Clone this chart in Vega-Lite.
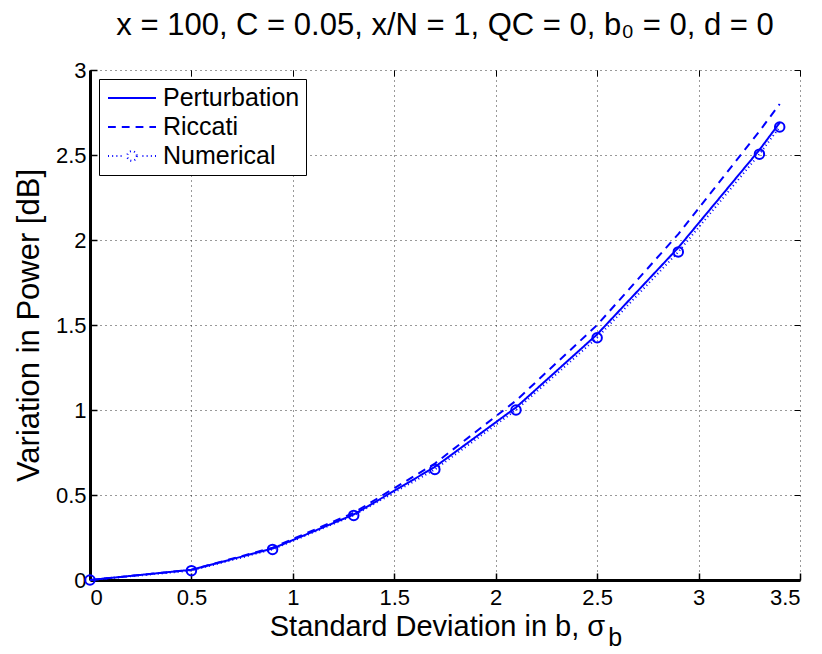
{
  "$schema": "https://vega.github.io/schema/vega-lite/v6.json",
  "width": 710,
  "height": 510,
  "autosize": {"type": "none"},
  "padding": {"left": 90, "top": 70, "right": 22, "bottom": 74},
  "background": "white",
  "title": {"text": "x = 100, C = 0.05, x/N = 1, QC = 0, b₀ = 0, d = 0", "font": "Liberation Sans", "fontSize": 31, "fontWeight": "normal", "color": "black", "offset": 17, "anchor": "middle"},
  "config": {
    "view": {"stroke": null},
    "axis": {"labelFont": "Liberation Sans", "titleFont": "Liberation Sans", "labelColor": "black", "titleColor": "black", "titleFontWeight": "normal"}
  },
  "datasets": {
    "curves": [
      {"x": 0, "y": 0, "series": "Perturbation"},
      {"x": 0.5, "y": 0.06, "series": "Perturbation"},
      {"x": 0.9, "y": 0.185, "series": "Perturbation"},
      {"x": 1.3, "y": 0.385, "series": "Perturbation"},
      {"x": 1.7, "y": 0.665, "series": "Perturbation"},
      {"x": 2.1, "y": 1.015, "series": "Perturbation"},
      {"x": 2.5, "y": 1.445, "series": "Perturbation"},
      {"x": 2.9, "y": 1.955, "series": "Perturbation"},
      {"x": 3.3, "y": 2.53, "series": "Perturbation"},
      {"x": 3.4, "y": 2.69, "series": "Perturbation"},
      {"x": 0, "y": 0, "series": "Riccati"},
      {"x": 0.5, "y": 0.06, "series": "Riccati"},
      {"x": 0.9, "y": 0.19, "series": "Riccati"},
      {"x": 1.3, "y": 0.395, "series": "Riccati"},
      {"x": 1.7, "y": 0.685, "series": "Riccati"},
      {"x": 2.1, "y": 1.055, "series": "Riccati"},
      {"x": 2.5, "y": 1.5, "series": "Riccati"},
      {"x": 2.9, "y": 2.035, "series": "Riccati"},
      {"x": 3.3, "y": 2.64, "series": "Riccati"},
      {"x": 3.4, "y": 2.8, "series": "Riccati"},
      {"x": 0, "y": 0, "series": "Numerical"},
      {"x": 0.5, "y": 0.055, "series": "Numerical"},
      {"x": 0.9, "y": 0.18, "series": "Numerical"},
      {"x": 1.3, "y": 0.38, "series": "Numerical"},
      {"x": 1.7, "y": 0.65, "series": "Numerical"},
      {"x": 2.1, "y": 1.0, "series": "Numerical"},
      {"x": 2.5, "y": 1.425, "series": "Numerical"},
      {"x": 2.9, "y": 1.93, "series": "Numerical"},
      {"x": 3.3, "y": 2.505, "series": "Numerical"},
      {"x": 3.4, "y": 2.665, "series": "Numerical"}
    ]
  },
  "resolve": {"axis": {"x": "independent", "y": "independent"}},
  "layer": [
    {
      "data": {"name": "curves"},
      "mark": {"type": "line", "color": "#0000ff", "strokeWidth": 2},
      "encoding": {
        "x": {"field": "x", "type": "quantitative", "scale": {"domain": [0, 3.5], "nice": false, "zero": false},
          "axis": {"orient": "bottom", "values": [0, 0.5, 1, 1.5, 2, 2.5, 3, 3.5], "format": "~g", "title": "Standard Deviation in b, σ", "titleFontSize": 29, "titlePadding": 4, "titleX": 347, "labelFontSize": 22, "labelPadding": 14, "tickSize": -7, "tickWidth": 1.5, "tickColor": "black", "domainColor": "black", "domainWidth": 3, "grid": true, "gridColor": "black", "gridDash": [1, 4], "gridWidth": 1, "gridOpacity": 0.8}},
        "y": {"field": "y", "type": "quantitative", "scale": {"domain": [0, 3], "nice": false, "zero": false},
          "axis": {"orient": "left", "values": [0, 0.5, 1, 1.5, 2, 2.5, 3], "format": "~g", "title": "Variation in Power [dB]", "titleFontSize": 31, "titlePadding": 10, "labelFontSize": 22, "labelPadding": 11, "tickSize": -7, "tickWidth": 1.5, "tickColor": "black", "domainColor": "black", "domainWidth": 3, "grid": true, "gridColor": "black", "gridDash": [1, 4], "gridWidth": 1, "gridOpacity": 0.8}},
        "strokeDash": {"field": "series", "type": "nominal",
          "scale": {"domain": ["Perturbation", "Riccati", "Numerical"], "range": [[1, 0], [8, 6], [1, 3]]},
          "legend": {"title": null, "orient": "top-left", "offset": 9, "padding": 6, "strokeColor": "black", "fillColor": "white",
            "labelFont": "Liberation Sans", "labelFontSize": 25, "labelColor": "black", "labelOffset": 18, "symbolOffset": 14,
            "symbolType": "M-2,0L2,0", "symbolSize": 576, "symbolStrokeColor": "#0000ff", "symbolStrokeWidth": 2, "rowPadding": 3,
            "encode": {"symbols": {"update": {
              "shape": {"signal": "datum.value === 'Perturbation' ? 'M-2,0L2,0' : datum.value === 'Riccati' ? 'M-2,0L-1.35,0M-0.85,0L-0.2,0M0.3,0L0.95,0M1.45,0L2,0' : 'M-2,0L-1.92,0M-1.65,0L-1.57,0M-1.3,0L-1.22,0M-0.95,0L-0.87,0M0.87,0L0.95,0M1.22,0L1.3,0M1.57,0L1.65,0M1.92,0L2,0M0.4,0A0.4,0.4,0,1,1,-0.4,0A0.4,0.4,0,1,1,0.4,0'"},
              "strokeDash": {"value": [1, 0]},
              "stroke": {"value": "#0000ff"},
              "fill": {"value": "transparent"}
            }}}
          }},
        "strokeWidth": {"condition": {"test": "datum.series === 'Numerical'", "value": 1}, "value": 2}
      }
    },
    {
      "data": {"name": "curves"},
      "transform": [{"filter": "datum.series === 'Numerical'"}],
      "mark": {"type": "point", "shape": "circle", "size": 90, "filled": false, "stroke": "#0000ff", "strokeWidth": 2, "opacity": 1},
      "encoding": {
        "x": {"field": "x", "type": "quantitative", "axis": null},
        "y": {"field": "y", "type": "quantitative", "axis": null}
      }
    },
    {
      "data": {"values": [{"x": 2.555, "y": -0.27, "t": "b"}]},
      "mark": {"type": "text", "font": "Liberation Sans", "fontSize": 25, "color": "black", "align": "left", "baseline": "top"},
      "encoding": {
        "x": {"field": "x", "type": "quantitative", "axis": {"orient": "top", "values": [0, 0.5, 1, 1.5, 2, 2.5, 3, 3.5], "labels": false, "title": null, "domain": false, "grid": false, "tickSize": -6, "tickColor": "black", "tickWidth": 1}},
        "y": {"field": "y", "type": "quantitative", "axis": {"orient": "right", "values": [0, 0.5, 1, 1.5, 2, 2.5, 3], "labels": false, "title": null, "domain": false, "grid": false, "tickSize": -6, "tickColor": "black", "tickWidth": 1}},
        "text": {"field": "t"}
      }
    }
  ]
}
